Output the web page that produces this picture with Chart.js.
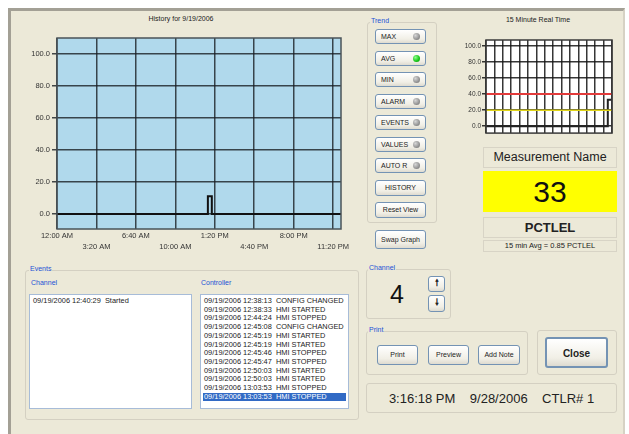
<!DOCTYPE html>
<html lang="en">
<head>
<meta charset="UTF-8" />
<title>History for 9/19/2006</title>
<script src="https://cdn.jsdelivr.net/npm/chart.js"></script>
<style>
    body { margin: 0; width: 629px; height: 434px; background: #fff; overflow: hidden;
           font-family: "Liberation Sans", Arial, sans-serif; color: #222; }
    .abs { position: absolute; }
    #win { left: 8px; top: 8px; width: 617px; height: 426px; box-sizing: border-box;
           background: #ece9d8; border-left: 3px solid #a3a095; border-top: 3px solid #a3a095;
           border-right: 2px solid #d6d2c4; }
    .group { border: 1px solid #d4d0c2; border-radius: 3px; box-sizing: border-box; }
    .glabel { font-size: 7px; color: #1c52d6; background: #ece9d8; padding: 0 1px; line-height: 8px; }
    .btn { box-sizing: border-box; border: 1px solid #7493b4; border-radius: 3px;
           background: linear-gradient(#ffffff, #f1efe6 70%, #dedbd0);
           font-size: 7px; line-height: 13px; color: #222; text-align: center; }
    .btn.led { text-align: left; padding-left: 5px; }
    .dot { position: absolute; right: 5px; top: 3px; width: 7px; height: 7px; border-radius: 50%;
           background: radial-gradient(circle at 35% 35%, #d6d6d6, #8a8a8a 70%, #6f6f6f); }
    .dot.on { background: radial-gradient(circle at 35% 35%, #8dff8d, #16c416 60%, #0a8a0a); }
    .panel { box-sizing: border-box; border: 1px solid #d8d4c6; text-align: center; }
    .list { background: #fff; border: 1px solid #a7bcd8; box-sizing: border-box;
            font-size: 7.4px; line-height: 8.7px; padding: 2px 2px; white-space: nowrap; overflow: hidden; }
    .list div { padding-left: 1px; }
    .list .sel { background: #316ac5; color: #fff; }
    canvas { position: absolute; }
</style>
</head>
<body>
<div id="win" class="abs"></div>

<!-- history graph -->
<div class="abs" style="left:90px;top:15px;width:182px;text-align:center;font-size:7px;">History for 9/19/2006</div>
<canvas id="historyChart" width="342" height="228" style="left:14px;top:28px;"></canvas>

<!-- trend buttons -->
<div class="abs group" style="left:367px;top:22px;width:70px;height:201px;"></div>
<div class="abs glabel" style="left:370px;top:17px;">Trend</div>
<div class="abs btn led" style="left:375px;top:29px;width:51px;height:15px;">MAX<span class="dot"></span></div>
<div class="abs btn led" style="left:375px;top:51px;width:51px;height:15px;">AVG<span class="dot on"></span></div>
<div class="abs btn led" style="left:375px;top:72px;width:51px;height:15px;">MIN<span class="dot"></span></div>
<div class="abs btn led" style="left:375px;top:94px;width:51px;height:15px;">ALARM<span class="dot"></span></div>
<div class="abs btn led" style="left:375px;top:115px;width:51px;height:15px;">EVENTS<span class="dot"></span></div>
<div class="abs btn led" style="left:375px;top:137px;width:51px;height:15px;">VALUES<span class="dot"></span></div>
<div class="abs btn led" style="left:375px;top:158px;width:51px;height:15px;">AUTO R<span class="dot"></span></div>
<div class="abs btn" style="left:375px;top:180px;width:51px;height:16px;">HISTORY</div>
<div class="abs btn" style="left:375px;top:202px;width:51px;height:16px;">Reset View</div>
<div class="abs btn" style="left:375px;top:230px;width:51px;height:19px;line-height:17px;">Swap Graph</div>

<!-- real time graph -->
<div class="abs" style="left:478px;top:16px;width:120px;text-align:center;font-size:7px;">15 Minute Real Time</div>
<canvas id="realtimeChart" width="170" height="106" style="left:450px;top:32px;"></canvas>

<div class="abs panel" style="left:483px;top:147px;width:134px;height:21px;font-size:12.5px;line-height:19px;">Measurement Name</div>
<div class="abs" style="left:483px;top:171px;width:134px;height:41px;background:#ffff00;text-align:center;font-size:30px;line-height:41px;color:#111;">33</div>
<div class="abs panel" style="left:483px;top:217px;width:134px;height:21px;font-size:13px;font-weight:bold;line-height:19px;">PCTLEL</div>
<div class="abs panel" style="left:483px;top:240px;width:134px;height:12px;font-size:7.5px;line-height:10px;">15 min Avg = 0.85 PCTLEL</div>

<!-- events -->
<div class="abs group" style="left:25px;top:270px;width:334px;height:150px;"></div>
<div class="abs glabel" style="left:29px;top:265px;">Events</div>
<div class="abs" style="left:31px;top:279px;font-size:7px;color:#1c52d6;">Channel</div>
<div class="abs" style="left:201px;top:279px;font-size:7px;color:#1c52d6;">Controller</div>
<div class="abs list" style="left:29px;top:294px;width:163px;height:115px;">
    <div>09/19/2006 12:40:29&nbsp; Started</div>
</div>
<div class="abs list" id="ctrlList" style="left:200px;top:294px;width:149px;height:115px;"></div>

<!-- channel -->
<div class="abs group" style="left:366px;top:269px;width:85px;height:50px;"></div>
<div class="abs glabel" style="left:368px;top:264px;">Channel</div>
<div class="abs" style="left:380px;top:280px;width:34px;text-align:center;font-size:25px;line-height:28px;color:#111;">4</div>
<div class="abs btn" style="left:428px;top:276px;width:17px;height:16px;font-size:9px;font-weight:bold;">&#129045;</div>
<div class="abs btn" style="left:428px;top:295px;width:17px;height:17px;font-size:9px;font-weight:bold;">&#129047;</div>

<!-- print -->
<div class="abs group" style="left:366px;top:331px;width:162px;height:44px;"></div>
<div class="abs glabel" style="left:368px;top:326px;">Print</div>
<div class="abs btn" style="left:377px;top:345px;width:41px;height:20px;line-height:18px;">Print</div>
<div class="abs btn" style="left:428px;top:345px;width:41px;height:20px;line-height:18px;">Preview</div>
<div class="abs btn" style="left:478px;top:345px;width:42px;height:20px;line-height:18px;">Add Note</div>

<div class="abs group" style="left:537px;top:330px;width:80px;height:45px;"></div>
<div class="abs btn" style="left:545px;top:337px;width:63px;height:31px;line-height:29px;font-size:10px;font-weight:bold;border-width:2px;">Close</div>

<div class="abs group" style="left:366px;top:383px;width:251px;height:30px;font-size:13px;line-height:30px;text-align:center;color:#222;">
    3:16:18 PM&nbsp;&nbsp;&nbsp; 9/28/2006&nbsp;&nbsp;&nbsp; CTLR# 1
</div>

<script>
    // ---- history graph (minutes since midnight) ----
    const historyMinutes = [0, 765, 765, 785, 785, 1440];
    const historyValues = [0, 0, 11, 11, 0, 0];
    const historyTickMinutes = [0, 200, 400, 600, 800, 1000, 1200, 1400];
    const historyTimeLabels = ['12:00 AM', '3:20 AM', '6:40 AM', '10:00 AM', '1:20 PM', '4:40 PM', '8:00 PM', '11:20 PM'];
    const historyValueTicks = [0, 20, 40, 60, 80, 100];

    // ---- 15 minute real time ----
    const realtimeMinutes = [0, 14.5, 14.5, 15];
    const realtimeValues = [0, 0, 33, 33];
    const alarmHigh = [40, 40];
    const alarmLow = [20, 20];
    const alarmMinutes = [0, 15];
    const realtimeGridMinutes = [0, 1, 2, 3, 4, 5, 6, 7, 8, 9, 10, 11, 12, 13, 14, 15];
    const realtimeValueTicks = [0, 20, 40, 60, 80, 100];

    // controller events
    const controllerEvents = [
        '09/19/2006 12:38:13  CONFIG CHANGED',
        '09/19/2006 12:38:33  HMI STARTED',
        '09/19/2006 12:44:24  HMI STOPPED',
        '09/19/2006 12:45:08  CONFIG CHANGED',
        '09/19/2006 12:45:19  HMI STARTED',
        '09/19/2006 12:45:19  HMI STARTED',
        '09/19/2006 12:45:46  HMI STOPPED',
        '09/19/2006 12:45:47  HMI STOPPED',
        '09/19/2006 12:50:03  HMI STARTED',
        '09/19/2006 12:50:03  HMI STARTED',
        '09/19/2006 13:03:53  HMI STOPPED',
        '09/19/2006 13:03:53  HMI STOPPED'
    ];

    const list = document.getElementById('ctrlList');
    controllerEvents.forEach((t, i) => {
        const d = document.createElement('div');
        d.textContent = t.replace('  ', '\u00a0 ');
        if (i === controllerEvents.length - 1) d.className = 'sel';
        list.appendChild(d);
    });

    const toPoints = (xs, ys) => xs.map((x, i) => ({ x, y: ys[i] }));

    // plot background + frame
    const plotFrame = {
        id: 'plotFrame',
        beforeDraw(chart, args, opts) {
            const { ctx, chartArea: a } = chart;
            ctx.save();
            ctx.fillStyle = opts.fill;
            ctx.fillRect(a.left, a.top, a.width, a.height);
            ctx.restore();
        },
        afterDraw(chart, args, opts) {
            const { ctx, chartArea: a } = chart;
            ctx.save();
            ctx.strokeStyle = opts.stroke;
            ctx.lineWidth = 1.5;
            ctx.strokeRect(a.left, a.top, a.width, a.height);
            ctx.restore();
        }
    };

    Chart.defaults.font.family = '"Liberation Sans", Arial, sans-serif';
    Chart.defaults.color = '#333';

    new Chart(document.getElementById('historyChart'), {
        type: 'line',
        data: {
            datasets: [{
                data: toPoints(historyMinutes, historyValues),
                borderColor: '#111',
                borderWidth: 2,
                pointRadius: 0,
                tension: 0
            }]
        },
        options: {
            responsive: false,
            animation: false,
            layout: { padding: { top: 10, right: 15, left: 0, bottom: 0 } },
            plugins: {
                legend: { display: false },
                tooltip: { enabled: false },
                plotFrame: { fill: '#b0d9ec', stroke: '#4a5358' }
            },
            scales: {
                x: {
                    type: 'linear',
                    min: 0,
                    max: 1440,
                    afterBuildTicks: s => { s.ticks = historyTickMinutes.map(v => ({ value: v })); },
                    afterFit: s => { s.height = 27; },
                    grid: { color: 'rgba(25,30,35,0.8)', lineWidth: 1.5, drawTicks: false },
                    border: { display: false },
                    ticks: {
                        autoSkip: false,
                        maxRotation: 0,
                        padding: 1,
                        font: { size: 7.5, lineHeight: 1.5 },
                        callback: (v, i) => i % 2 === 0 ? [historyTimeLabels[i], ''] : ['', historyTimeLabels[i]]
                    }
                },
                y: {
                    min: -9.4,
                    max: 110,
                    afterBuildTicks: s => { s.ticks = historyValueTicks.map(v => ({ value: v })); },
                    afterFit: s => { s.width = 43; },
                    grid: { color: 'rgba(25,30,35,0.8)', lineWidth: 1.5, tickLength: 5 },
                    border: { display: false },
                    ticks: { padding: 2, font: { size: 7.5 }, callback: v => v.toFixed(1) }
                }
            }
        },
        plugins: [plotFrame]
    });

    new Chart(document.getElementById('realtimeChart'), {
        type: 'line',
        data: {
            datasets: [
                { data: toPoints(alarmMinutes, alarmHigh), borderColor: '#e23a3a', borderWidth: 2, pointRadius: 0 },
                { data: toPoints(alarmMinutes, alarmLow), borderColor: '#e0d51a', borderWidth: 1.5, pointRadius: 0 },
                { data: toPoints(realtimeMinutes, realtimeValues), borderColor: '#222', borderWidth: 2, pointRadius: 0 }
            ]
        },
        options: {
            responsive: false,
            animation: false,
            layout: { padding: { top: 8, right: 8, left: 0, bottom: 0 } },
            plugins: {
                legend: { display: false },
                tooltip: { enabled: false },
                plotFrame: { fill: '#ffffff', stroke: '#3a3a3a' }
            },
            scales: {
                x: {
                    type: 'linear',
                    min: 0,
                    max: 15,
                    afterBuildTicks: s => { s.ticks = realtimeGridMinutes.map(v => ({ value: v })); },
                    afterFit: s => { s.height = 4; },
                    grid: { color: 'rgba(20,20,20,0.85)', lineWidth: 1.5, drawTicks: false },
                    border: { display: false },
                    ticks: { display: false }
                },
                y: {
                    min: -8.6,
                    max: 107.4,
                    afterBuildTicks: s => { s.ticks = realtimeValueTicks.map(v => ({ value: v })); },
                    afterFit: s => { s.width = 36; },
                    grid: { color: 'rgba(20,20,20,0.85)', lineWidth: 1.5, tickLength: 4 },
                    border: { display: false },
                    ticks: { padding: 1, font: { size: 6.5 }, callback: v => v.toFixed(1) }
                }
            }
        },
        plugins: [plotFrame]
    });
</script>
</body>
</html>
